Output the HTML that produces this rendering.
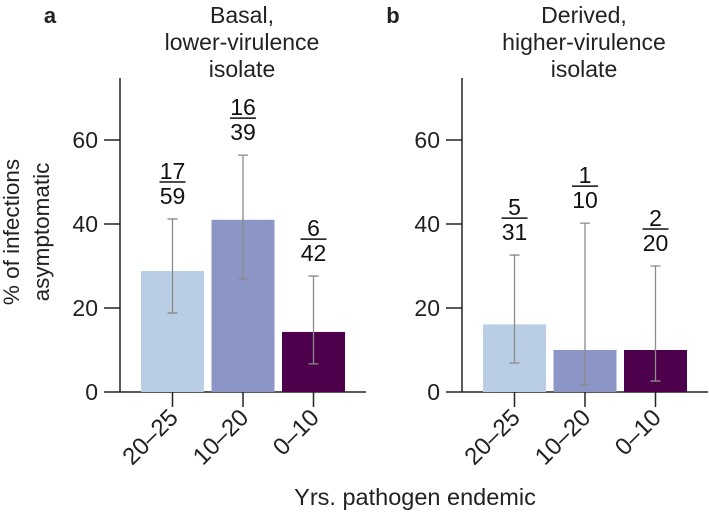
<!DOCTYPE html>
<html><head><meta charset="utf-8"><style>
html,body{margin:0;padding:0;background:#fff;}
svg{display:block;font-family:"Liberation Sans",Arial,sans-serif;}
</style></head><body>
<svg id="chart" width="709" height="518" viewBox="0 0 709 518">
 <g id="g"></g>
 <text x="13" y="232" transform="rotate(-90 13 232)" text-anchor="middle" font-size="22.5" fill="#222" dominant-baseline="middle">% of infections</text>
 <text x="43" y="232" transform="rotate(-90 43 232)" text-anchor="middle" font-size="22.5" fill="#222" dominant-baseline="middle">asymptomatic</text>
 <text x="415" y="505" text-anchor="middle" font-size="23.5" fill="#222">Yrs. pathogen endemic</text>
</svg>
<script>
const categories = ["20–25","10–20","0–10"];
const panelLetters = ["a","b"];
const panelTitles = [["Basal,","lower-virulence","isolate"],["Derived,","higher-virulence","isolate"]];
const values = [[28.8,41.0,14.3],[16.1,10.0,10.0]];
const errLow = [[18.8,26.9,6.7],[6.9,1.7,2.6]];
const errHigh = [[41.2,56.4,27.6],[32.6,40.2,30.0]];
const numerators = [["17","16","6"],["5","1","2"]];
const denominators = [["59","39","42"],["31","10","20"]];
const yTicks = [0,20,40,60];
const colors = ["#b9cee4","#8c96c6","#4d004b"];

const NS="http://www.w3.org/2000/svg";
const g=document.getElementById('g');
function mk(tag,attrs,parent){const e=document.createElementNS(NS,tag);for(const k in attrs)e.setAttribute(k,attrs[k]);(parent||g).appendChild(e);return e;}
const y0=392, pxPerUnit=4.2, yTop=78;
function yScale(v){return y0-v*pxPerUnit;}
function xScale(p,i){return 120+p*342+21+i*70.5+31.5;}
const barW=63;

panelLetters.forEach((L,p)=>{
  const ax=120+p*342;
  const letter=mk('text',{x:50+p*343,y:23,'font-size':22,'font-weight':'bold',fill:'#222','text-anchor':'middle'});
  
  
  letter.textContent=L;
  panelTitles[p].forEach((t,k)=>{
    const tt=mk('text',{x:242+p*342,y:23+k*27,'font-size':23,fill:'#222','text-anchor':'middle'});
    
    
    tt.textContent=t;
  });
  const yax=mk('line',{x1:ax,y1:yTop,x2:ax,y2:y0,stroke:'#222','stroke-width':1.5});
  
  
  const xax=mk('line',{x1:ax,y1:y0,x2:ax+246,y2:y0,stroke:'#222','stroke-width':1.5});
  
  
  yTicks.forEach(v=>{
    const tk=mk('line',{x1:ax-16,y1:yScale(v),x2:ax,y2:yScale(v),stroke:'#222','stroke-width':1.5});
    
    
    const tl=mk('text',{x:ax-22,y:yScale(v)+8,'font-size':23,fill:'#222','text-anchor':'end'});
    
    
    tl.textContent=v;
  });
  categories.forEach((c,i)=>{
    const cx=xScale(p,i);
    const r=mk('rect',{x:cx-barW/2,y:yScale(values[p][i]),width:barW,height:y0-yScale(values[p][i]),fill:colors[i]});
    
    
    const e=mk('path',{d:`M${cx},${yScale(errLow[p][i])}V${yScale(errHigh[p][i])}M${cx-5},${yScale(errLow[p][i])}H${cx+5}M${cx-5},${yScale(errHigh[p][i])}H${cx+5}`,stroke:'#8a8a8a','stroke-width':1.3,fill:'none'});
    
    
    const fy=yScale(errHigh[p][i])-37;
    const fl=mk('line',{x1:cx-13,y1:fy,x2:cx+13,y2:fy,stroke:'#111','stroke-width':1.5});
    
    
    const n=mk('text',{x:cx,y:fy-3,'font-size':23,fill:'#111','text-anchor':'middle'});
    
    
    n.textContent=numerators[p][i];
    const d=mk('text',{x:cx,y:fy+22,'font-size':23,fill:'#111','text-anchor':'middle'});
    
    
    d.textContent=denominators[p][i];
    const xt=mk('line',{x1:cx,y1:y0,x2:cx,y2:y0+15,stroke:'#222','stroke-width':1.5});
    
    
    const xl=mk('text',{x:cx+7,y:y0+27,'font-size':24,fill:'#222','text-anchor':'end',transform:`rotate(-45 ${cx+7} ${y0+27})`});
    
    
    xl.textContent=c;
  });
});
</script>
</body></html>
